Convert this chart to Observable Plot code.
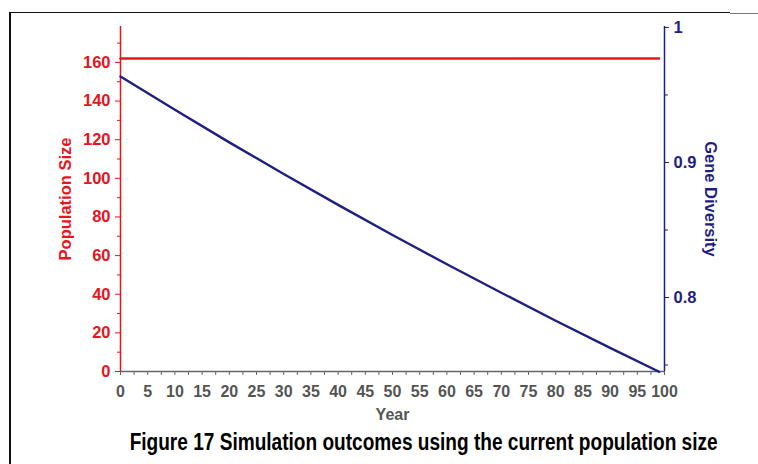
<!DOCTYPE html>
<html>
<head>
<meta charset="utf-8">
<script src="https://cdn.jsdelivr.net/npm/d3@7"></script>
<script src="https://cdn.jsdelivr.net/npm/@observablehq/plot@0.6"></script>
<style>
  html, body { margin: 0; padding: 0; background: #fff; }
  body { width: 758px; height: 464px; overflow: hidden; position: relative; font-family: "Liberation Sans", Arial, sans-serif; }
  #frameTop { position: absolute; left: 10px; top: 12px; width: 720px; height: 0; border-top: 1.5px solid #111; }
  #frameTop2 { position: absolute; left: 730px; top: 13px; width: 28px; height: 0; border-top: 1.5px solid #777; }
  #frameLeft { position: absolute; left: 9px; top: 12px; width: 0; height: 452px; border-left: 2.5px solid #111; }
  #chart { position: absolute; left: 0; top: 0; }
  #caption { position: absolute; left: 0; top: 429px; width: 848px; text-align: center; white-space: nowrap; }
  #caption span { display: inline-block; font-family: "Liberation Sans", Arial, sans-serif; font-weight: bold; font-size: 23px; color: #000; transform-origin: 50% 50%; }
</style>
</head>
<body>
<div id="chart"></div>
<div id="caption"><span id="capText">Figure 17 Simulation outcomes using the current population size</span></div>
<div id="frameTop"></div>
<div id="frameTop2"></div>
<div id="frameLeft"></div>
<script>
// ---- data ----
const years = [0, 10, 20, 30, 40, 50, 60, 70, 80, 90, 99];
const populationSize = [162, 162, 162, 162, 162, 162, 162, 162, 162, 162, 162];
const geneDiversity = [0.9637, 0.9390, 0.9149, 0.8915, 0.8686, 0.8463, 0.8246, 0.8035, 0.7828, 0.7627, 0.7450];

const yearTicks = [0, 5, 10, 15, 20, 25, 30, 35, 40, 45, 50, 55, 60, 65, 70, 75, 80, 85, 90, 95, 100];
const yearMinorTicks = [2.5, 7.5, 12.5, 17.5, 22.5, 27.5, 32.5, 37.5, 42.5, 47.5, 52.5, 57.5, 62.5, 67.5, 72.5, 77.5, 82.5, 87.5, 92.5, 97.5];
const popTicks = [0, 20, 40, 60, 80, 100, 120, 140, 160];
const popMinorTicks = [10, 30, 50, 70, 90, 110, 130, 150, 170];
const divTicks = [0.8, 0.9, 1];
const divTickLabels = ["0.8", "0.9", "1"];
const divMinorTicks = [0.75, 0.85, 0.95];

const popMax = 178.6;          // top of the left axis
const divLo = 0.7452, divHi = 1.0007; // extent of the right axis

// ---- colours ----
const red = "#e8141e";
const navy = "#1f1f80";
const gray = "#555555";

const toY = g => (g - divLo) / (divHi - divLo) * popMax;

const popData = years.map((y, i) => ({year: y, value: populationSize[i]}));
const divData = years.map((y, i) => ({year: y, value: toY(geneDiversity[i])}));

const divTickY = divTicks.map(toY);
const divLabel = new Map(divTickY.map((v, i) => [v, divTickLabels[i]]));

const font = "'Liberation Sans', Arial, sans-serif";

const chart = Plot.plot({
  width: 758,
  height: 425,
  marginLeft: 120,
  marginRight: 94,
  marginTop: 26,
  marginBottom: 54,
  style: {fontFamily: font, background: "transparent", overflow: "visible"},
  x: {domain: [0, 100], axis: null},
  y: {domain: [0, popMax], axis: null},
  marks: [
    // axis lines
    Plot.ruleX([0], {y1: 0, y2: popMax, stroke: red, strokeWidth: 1.5}),
    Plot.ruleX([100], {y1: 0, y2: popMax, stroke: navy, strokeWidth: 1.5}),
    Plot.ruleY([0], {x1: 0, x2: 100, stroke: "#666", strokeWidth: 1.5}),
    // left axis
    Plot.axisY(popTicks, {anchor: "left", color: red, tickSize: 5, tickPadding: 5, fontSize: 16.5, fontWeight: "bold", fontFamily: font, label: null}),
    Plot.axisY(popMinorTicks, {anchor: "left", color: red, tickSize: 3, tickFormat: () => "", label: null}),
    // right axis
    Plot.axisY(divTickY, {anchor: "right", color: navy, tickSize: 4, tickPadding: 5, tickFormat: v => divLabel.get(v), fontSize: 16.5, fontWeight: "bold", fontFamily: font, label: null}),
    Plot.axisY(divMinorTicks.map(toY), {anchor: "right", color: navy, tickSize: 3, tickFormat: () => "", label: null}),
    // bottom axis
    Plot.axisX(yearTicks, {anchor: "bottom", color: gray, stroke: "#666", tickSize: 4, tickPadding: 10, fontSize: 16, fontWeight: "bold", fontFamily: font, label: null}),
    Plot.axisX(yearMinorTicks, {anchor: "bottom", stroke: "#666", tickSize: 4, tickFormat: () => "", label: null}),
    // axis titles
    Plot.text(["Population Size"], {frameAnchor: "left", dx: -55, rotate: -90, textAnchor: "middle", lineAnchor: "middle", fill: red, fontSize: 16.5, fontWeight: "bold", fontFamily: font}),
    Plot.text(["Gene Diversity"], {frameAnchor: "right", dx: 46, rotate: 90, textAnchor: "middle", lineAnchor: "middle", fill: navy, fontSize: 16.5, fontWeight: "bold", fontFamily: font}),
    Plot.text(["Year"], {frameAnchor: "bottom", dy: 43, textAnchor: "middle", lineAnchor: "middle", fill: gray, fontSize: 16, fontWeight: "bold", fontFamily: font}),
    // series
    Plot.line(popData, {x: "year", y: "value", stroke: red, strokeWidth: 2.4}),
    Plot.line(divData, {x: "year", y: "value", stroke: navy, strokeWidth: 2.4})
  ]
});
document.getElementById("chart").appendChild(chart);

// condensed caption: scale to the reference's width
const cap = document.getElementById("capText");
const w = cap.getBoundingClientRect().width;
cap.style.transform = `scaleX(${588 / w})`;
</script>
</body>
</html>
